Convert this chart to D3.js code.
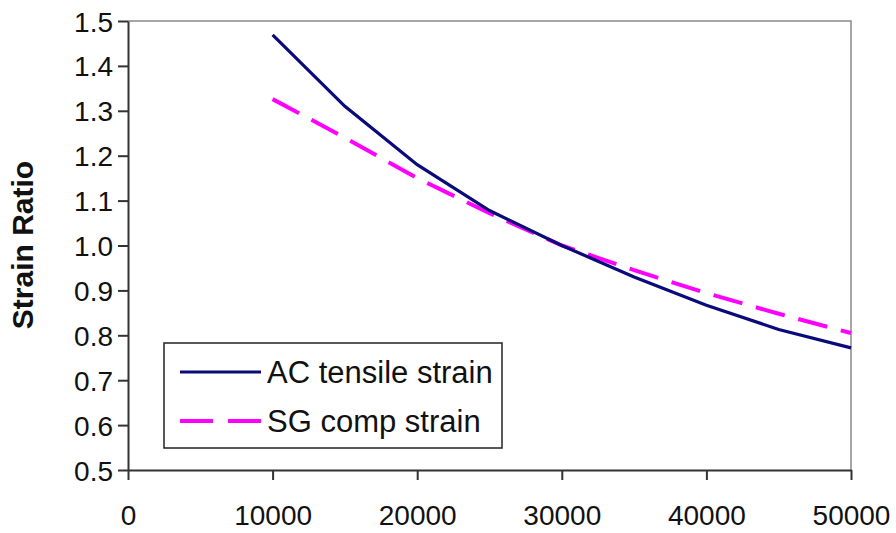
<!DOCTYPE html>
<html><head><meta charset="utf-8">
<script src="https://cdn.jsdelivr.net/npm/d3@7"></script>
<style>body{margin:0;background:#fff}svg{display:block}text{font-family:"Liberation Sans",Arial,sans-serif}</style>
</head><body>
<svg id="chart" width="896" height="533"></svg>
<script>
const xValues = [10000, 15000, 20000, 25000, 30000, 35000, 40000, 45000, 50000];
const acTensile = [1.469, 1.310, 1.180, 1.078, 1.000, 0.930, 0.867, 0.813, 0.772];
const sgComp = [1.326, 1.240, 1.150, 1.072, 1.000, 0.945, 0.894, 0.848, 0.805];
const seriesNames = ["AC tensile strain", "SG comp strain"];
const xTicks = [0, 10000, 20000, 30000, 40000, 50000];
const yTicks = [0.5, 0.6, 0.7, 0.8, 0.9, 1.0, 1.1, 1.2, 1.3, 1.4, 1.5];
const yTitle = "Strain Ratio";

const svg = d3.select("#chart");
const L = 128, R = 851, T = 21, B = 470;
const x = d3.scaleLinear().domain([0, 50000]).range([L, R]);
const y = d3.scaleLinear().domain([0.5, 1.5]).range([B, T]);

// frame top/right
svg.append("path").attr("d", `M${L},${T}H${R}V${B}`).attr("fill","none").attr("stroke","#8a8a8a").attr("stroke-width",1.5);

const xAxis = svg.append("g").attr("transform", `translate(0,${B})`)
  .call(d3.axisBottom(x).tickValues(xTicks).tickFormat(d3.format("d")).tickSize(10).tickSizeOuter(0));
const yAxis = svg.append("g").attr("transform", `translate(${L},0)`)
  .call(d3.axisLeft(y).tickValues(yTicks).tickFormat(d3.format(".1f")).tickSize(10).tickSizeOuter(0));
[xAxis, yAxis].forEach(g => {
  g.select(".domain").attr("stroke","#333").attr("stroke-width",2);
  g.selectAll(".tick line").attr("stroke","#333").attr("stroke-width",2);
  g.selectAll(".tick text").attr("fill","#111").style("font-size","28px");
});
xAxis.selectAll(".tick text").attr("dy", null).attr("y", 55);
yAxis.selectAll(".tick text").attr("x", -15).attr("dy","0.36em");

svg.append("text").attr("transform", `translate(33,245) rotate(-90)`)
  .attr("text-anchor","middle").style("font-size","30px").style("font-weight","bold").attr("fill","#111").text(yTitle);

const line = d3.line().x(d => x(d[0])).y(d => y(d[1]));
svg.append("path").datum(xValues.map((v,i)=>[v, sgComp[i]])).attr("d", line)
  .attr("fill","none").attr("stroke","#ff00ff").attr("stroke-width",4).attr("stroke-dasharray","30,14");
svg.append("path").datum(xValues.map((v,i)=>[v, acTensile[i]])).attr("d", line)
  .attr("fill","none").attr("stroke","#0a0a7a").attr("stroke-width",3.2);

// legend
const lg = svg.append("g");
lg.append("rect").attr("x",164).attr("y",343).attr("width",338).attr("height",105)
  .attr("fill","#fff").attr("stroke","#222").attr("stroke-width",1.5);
const styles = [{c:"#0a0a7a", w:3.2, da:null},{c:"#ff00ff", w:4, da:"33,15"}];
seriesNames.forEach((n,i) => {
  const yy = 372 + i*49;
  lg.append("line").attr("x1",180).attr("x2",261).attr("y1",yy).attr("y2",yy)
    .attr("stroke",styles[i].c).attr("stroke-width",styles[i].w).attr("stroke-dasharray",styles[i].da);
  lg.append("text").attr("x",267).attr("y",yy).attr("dy","0.36em").style("font-size","31px").attr("fill","#111").text(n);
});
</script>
</body></html>
